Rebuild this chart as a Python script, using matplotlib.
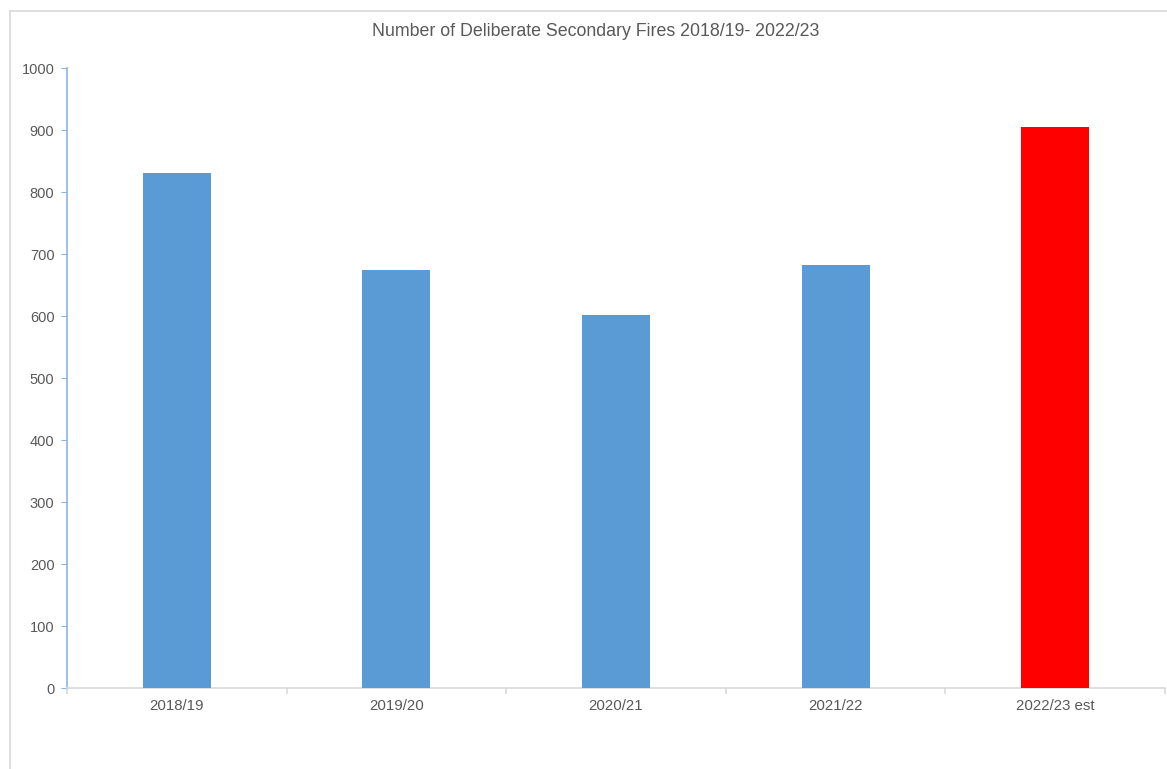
import matplotlib.pyplot as plt
from matplotlib.lines import Line2D
import numpy as np

plt.rcParams['font.family'] = ['Liberation Sans', 'DejaVu Sans']

years = ["2018/19", "2019/20", "2020/21", "2021/22", "2022/23 est"]
fires = [830, 675, 601, 682, 905]
colors = ["#5B9BD5", "#5B9BD5", "#5B9BD5", "#5B9BD5", "#FF0000"]

fig = plt.figure(figsize=(11.67, 7.69), dpi=100)
ax = fig.add_axes([67/1167, 1 - 688/769, (1165-67)/1167, (688-68)/769])

x = np.arange(len(years))
ax.bar(x, fires, width=0.31, color=colors, zorder=3)

ax.set_xlim(-0.5, len(years) - 0.5)
ax.set_ylim(0, 1000)
ax.set_yticks(np.arange(0, 1001, 100))
ax.set_xticks(x)
ax.set_xticklabels(years)
ax.set_xticks(np.arange(-0.5, len(years), 1), minor=True)

for s in ["top", "right"]:
    ax.spines[s].set_visible(False)
ax.spines["left"].set_color("#8FB4E3")
ax.spines["left"].set_linewidth(1.2)
ax.spines["bottom"].set_color("#D9D9D9")
ax.spines["bottom"].set_linewidth(1.2)

ax.tick_params(axis="y", colors="#8FB4E3", labelcolor="#595959", labelsize=10.5, length=4, pad=5)
ax.tick_params(axis="x", which="major", length=0, labelcolor="#595959", labelsize=10.8, pad=8)
ax.tick_params(axis="x", which="minor", length=4, color="#D9D9D9", width=1.2)

fig.text(596/1167, 1 - 31/769, "Number of Deliberate Secondary Fires 2018/19- 2022/23",
         ha="center", va="center", fontsize=12.8, color="#595959")

# outer chart frame (only top and left visible in the crop)
fig.add_artist(Line2D([9.5/1167, 9.5/1167], [0, 1 - 10.5/769], transform=fig.transFigure,
                      color="#D9D9D9", linewidth=1.2))
fig.add_artist(Line2D([9.5/1167, 1], [1 - 10.5/769, 1 - 10.5/769], transform=fig.transFigure,
                      color="#D9D9D9", linewidth=1.2))

fig.savefig("out.png", dpi=100)
